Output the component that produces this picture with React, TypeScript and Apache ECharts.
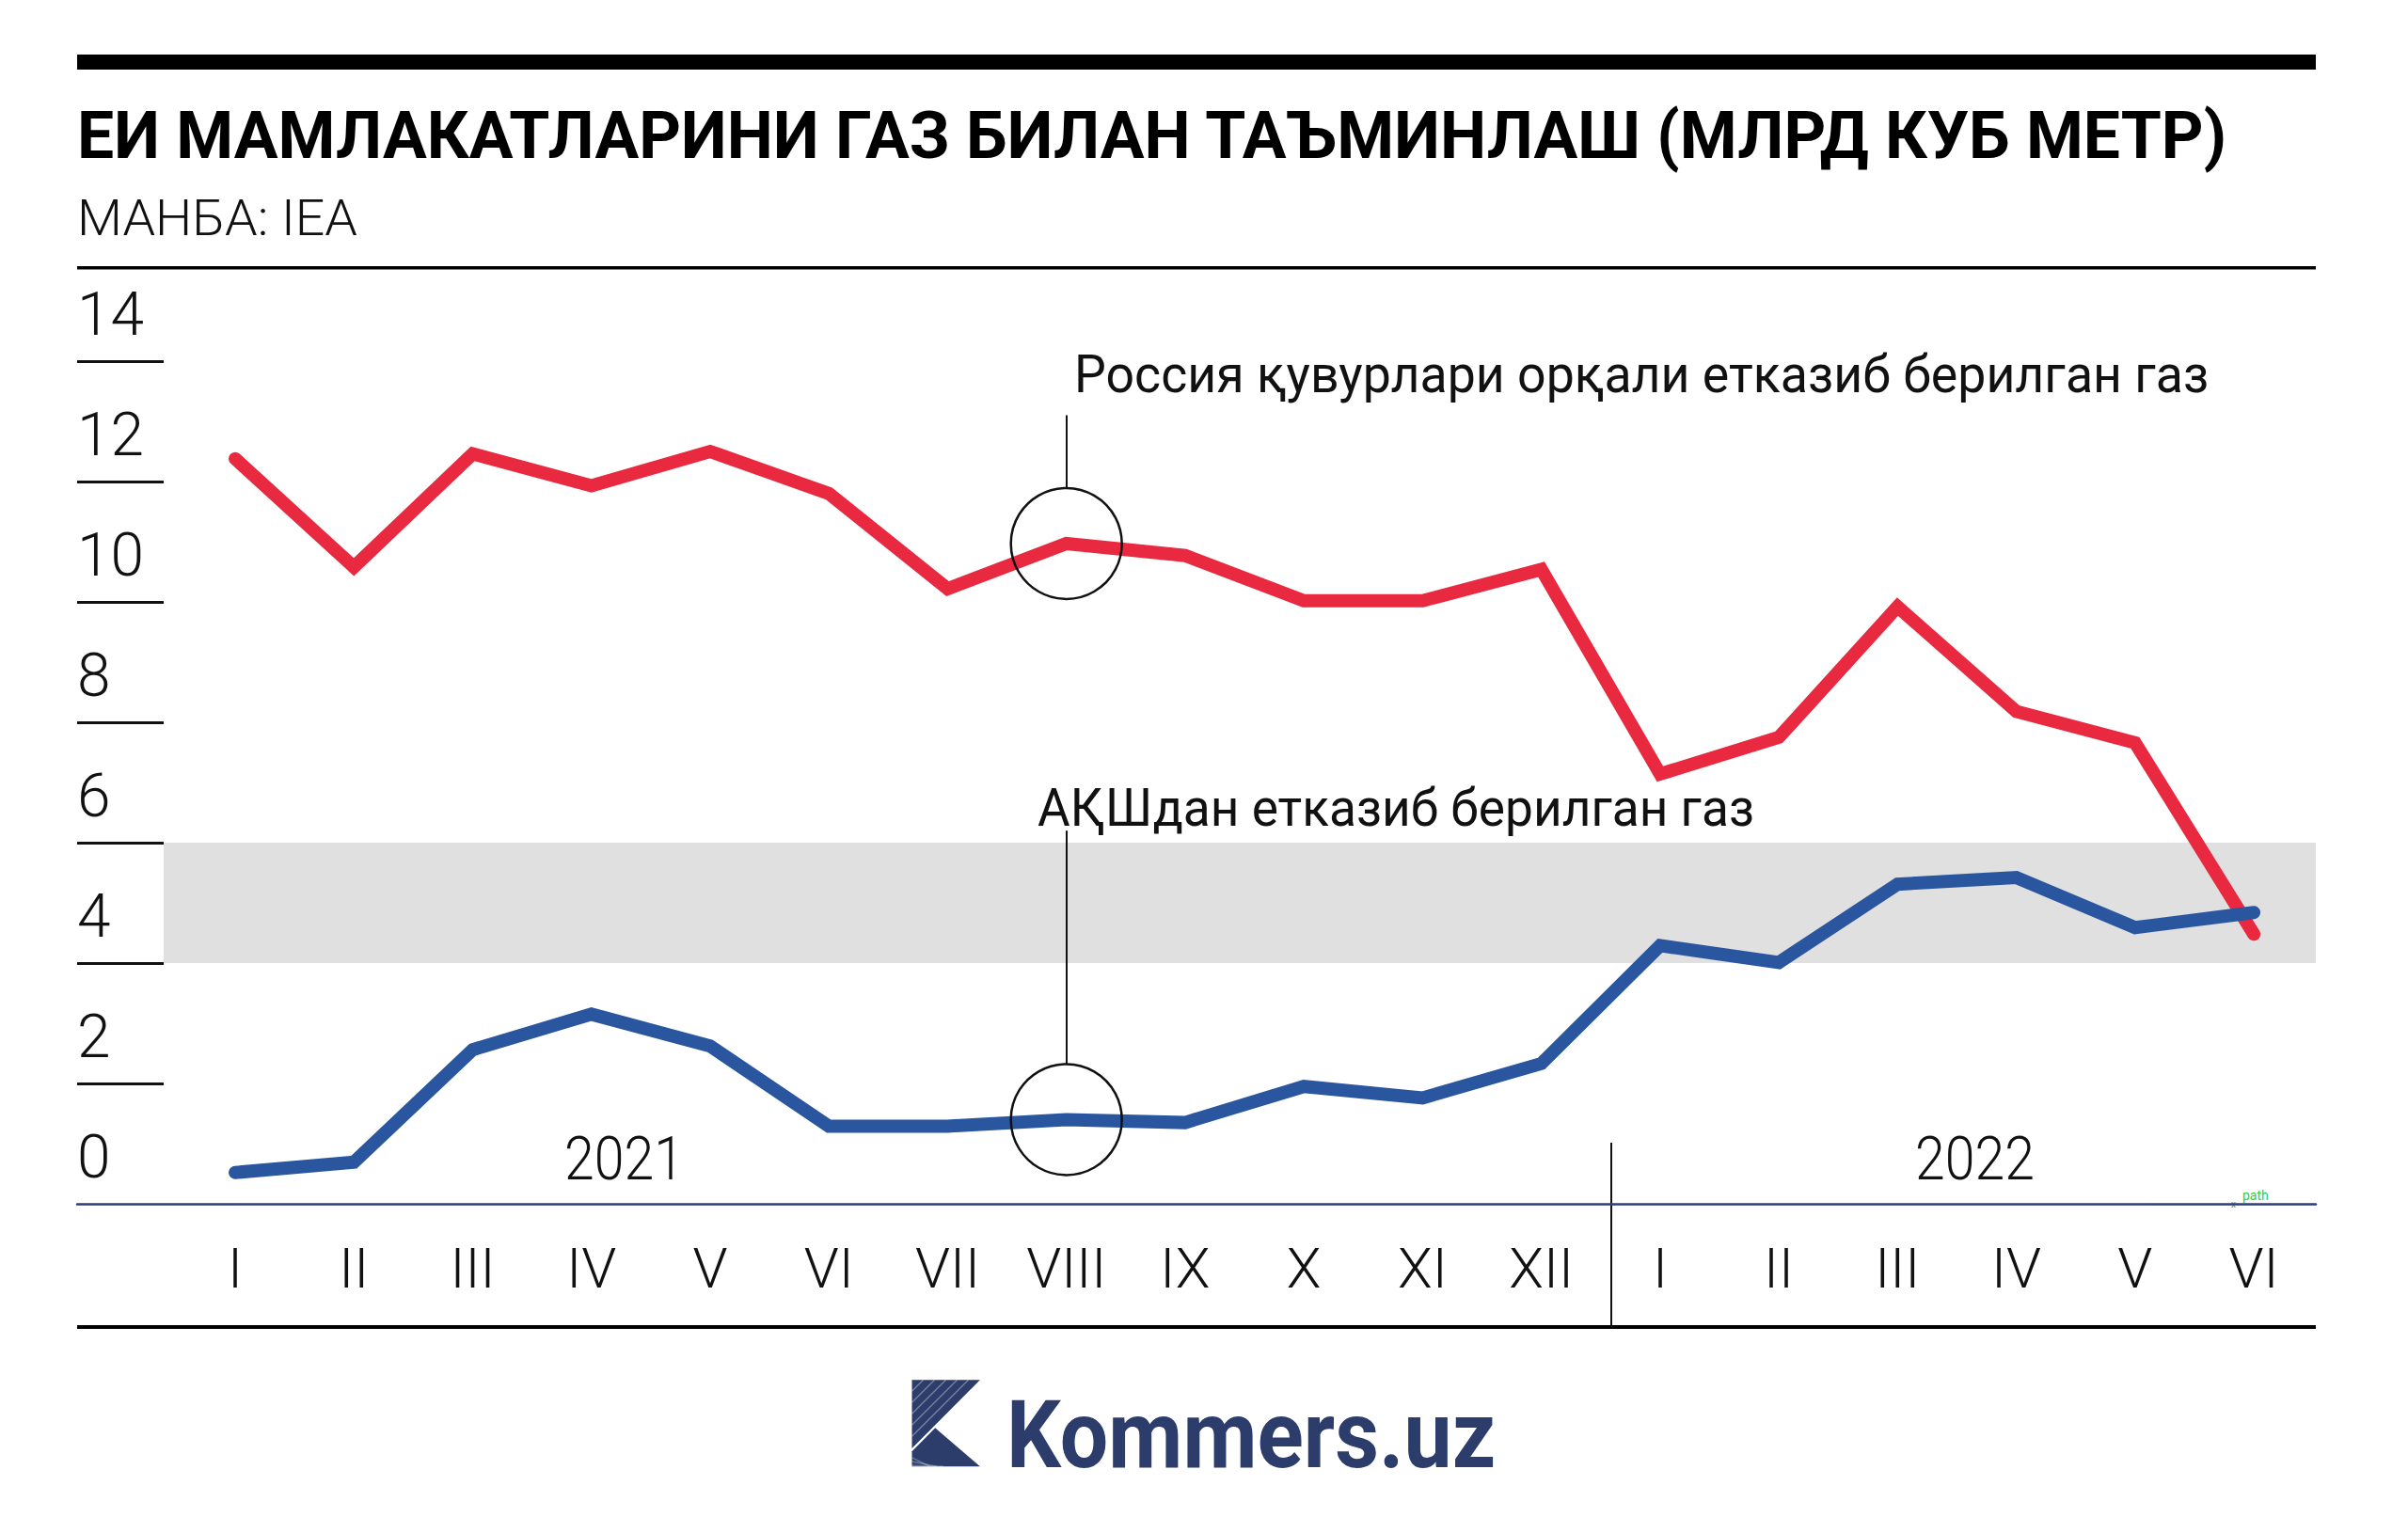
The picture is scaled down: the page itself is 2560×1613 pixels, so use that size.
import React, { useEffect, useRef } from "react";
import * as echarts from "echarts";

const months = ["I", "II", "III", "IV", "V", "VI", "VII", "VIII", "IX", "X", "XI", "XII", "I", "II", "III", "IV", "V", "VI"];
const russiaPipeline = [12.38, 10.58, 12.46, 11.93, 12.5, 11.8, 10.22, 10.97, 10.77, 10.02, 10.02, 10.54, 7.14, 7.75, 9.92, 8.18, 7.66, 4.48];
const usaLng = [0.52, 0.69, 2.56, 3.15, 2.62, 1.29, 1.29, 1.4, 1.35, 1.95, 1.76, 2.33, 4.29, 4.01, 5.31, 5.42, 4.59, 4.84];
const yTicks = [2, 4, 6, 8, 10, 12, 14];
const years = ["2021", "2022"];
const title = "ЕИ МАМЛАКАТЛАРИНИ ГАЗ БИЛАН ТАЪМИНЛАШ (МЛРД КУБ МЕТР)";
const source = "МАНБА: IEA";
const russiaLabel = "Россия қувурлари орқали етказиб берилган газ";
const usaLabel = "АҚШдан етказиб берилган газ";
const brand = "Kommers.uz";

const RED = "#e8293f";
const BLUE = "#2a56a0";
const NAVY = "#2c3d6b";
const FONT = "Roboto, 'Noto Sans', sans-serif";

function measure(text: string, size: number, weight: string | number) {
  const c = document.createElement("canvas");
  const ctx = c.getContext("2d")!;
  ctx.font = `${weight} ${size}px Roboto`;
  return ctx.measureText(text).width;
}

// text placed by left x and baseline, horizontally fitted to a target width
function fitText(text: string, x: number, baseline: number, size: number, weight: string | number, targetW: number, color: string, align = "left") {
  const w = measure(text, size, weight);
  const s = targetW / w;
  return {
    type: "text",
    x,
    y: baseline - 0.3 * size,
    scaleX: s,
    silent: true,
    style: {
      text,
      fill: color,
      font: `${weight} ${size}px ${FONT}`,
      align,
      verticalAlign: "middle",
    },
  };
}

export default function App() {
  const ref = useRef<HTMLDivElement>(null);
  useEffect(() => {
    const chart = echarts.init(ref.current!, null, { renderer: "svg" });
    const gridLeft = 82;
    const gridRight = 2462;
    const x0 = 250;
    const step = 126.24;
    const xMin = -(x0 - gridLeft) / step;
    const xMax = 17 + (gridRight - (x0 + 17 * step)) / step;
    const bandStart = -(x0 - 174) / step;
    const circleR = 59;
    const unit = 64;

    const logoPolys = [
      [[969.5, 1467.3], [1041.9, 1467.3], [969.5, 1540]],
      [[969.5, 1543.3], [994.2, 1518.3], [1041.9, 1559.3], [969.5, 1559.3]],
    ];
    const stripes: any[] = [];
    [12, 24, 36, 48, 60].forEach((d) => {
      stripes.push({
        type: "line",
        silent: true,
        shape: { x1: 969.5 + d, y1: 1467.3, x2: 969.5, y2: 1467.3 + d },
        style: { stroke: "rgba(255,255,255,0.35)", lineWidth: 1.5 },
      });
    });
    [8, 20, 32].forEach((d) => {
      stripes.push({
        type: "line",
        silent: true,
        shape: { x1: 969.5, y1: 1547 + d * 0.35, x2: 969.5 + (1559.3 - 1547 - d * 0.35) * 1.17 + d, y2: 1559.3 },
        style: { stroke: "rgba(255,255,255,0.3)", lineWidth: 1.5 },
      });
    });

    const option: any = {
      animation: false,
      backgroundColor: "#ffffff",
      grid: { left: gridLeft, right: 2560 - gridRight, top: 384, bottom: 1613 - 1280, containLabel: false },
      xAxis: {
        type: "value",
        min: xMin,
        max: xMax,
        axisLine: { show: true, onZero: false, lineStyle: { color: "#2b3f80", width: 2.5 } },
        axisTick: { show: false },
        splitLine: { show: false },
        axisLabel: {
          customValues: months.map((_, i) => i),
          formatter: (v: number) => months[Math.round(v)],
          fontFamily: FONT,
          fontWeight: 300,
          fontSize: 60,
          color: "#111",
          margin: 38,
        },
      },
      yAxis: {
        type: "value",
        min: 0,
        max: 14,
        interval: 2,
        axisLine: { show: false, onZero: false },
        splitLine: { show: false },
        axisTick: {
          show: true,
          inside: true,
          length: 92,
          customValues: yTicks,
          lineStyle: { color: "#111", width: 3 },
        },
        axisLabel: {
          inside: true,
          margin: 0,
          align: "left",
          verticalAlign: "bottom",
          lineHeight: 64,
          padding: [0, 0, 18, 0],
          fontFamily: FONT,
          fontWeight: 300,
          fontSize: 64,
          color: "#111",
          showMinLabel: true,
          showMaxLabel: true,
        },
      },
      series: [
        {
          name: "Russia",
          type: "line",
          z: 3,
          data: russiaPipeline.map((v, i) => [i, v]),
          showSymbol: false,
          lineStyle: { color: RED, width: 14, cap: "round", join: "miter" },
          silent: true,
          markArea: {
            silent: true,
            itemStyle: { color: "#e0e0e0" },
            data: [[{ xAxis: bandStart, yAxis: 6 }, { xAxis: xMax, yAxis: 4 }]],
          },
          markPoint: {
            silent: true,
            symbol: "circle",
            symbolSize: circleR * 2,
            itemStyle: { color: "rgba(0,0,0,0)", borderColor: "#111", borderWidth: 2.5 },
            label: { show: false },
            data: [{ coord: [7, russiaPipeline[7]] }],
          },
          markLine: {
            silent: true,
            symbol: ["none", "none"],
            lineStyle: { color: "#111", width: 2, type: "solid" },
            label: { show: false },
            data: [[{ coord: [7, russiaPipeline[7] + circleR / unit] }, { coord: [7, 13.1] }]],
          },
        },
        {
          name: "USA",
          type: "line",
          z: 4,
          data: usaLng.map((v, i) => [i, v]),
          showSymbol: false,
          lineStyle: { color: BLUE, width: 14, cap: "round", join: "miter" },
          silent: true,
          markPoint: {
            silent: true,
            symbol: "circle",
            symbolSize: circleR * 2,
            itemStyle: { color: "rgba(0,0,0,0)", borderColor: "#111", borderWidth: 2.5 },
            label: { show: false },
            data: [{ coord: [7, usaLng[7]] }],
          },
          markLine: {
            silent: true,
            symbol: ["none", "none"],
            lineStyle: { color: "#111", width: 2, type: "solid" },
            label: { show: false },
            data: [[{ coord: [7, usaLng[7] + circleR / unit] }, { coord: [7, 6.2] }]],
          },
        },
      ],
      graphic: [
        { type: "rect", silent: true, shape: { x: 82, y: 58, width: 2380, height: 16 }, style: { fill: "#000" } },
        fitText(title, 82, 165, 70, 700, 2288, "#000"),
        fitText(source, 82, 248, 53, 300, 298, "#111"),
        { type: "rect", silent: true, shape: { x: 82, y: 283, width: 2380, height: 3.5 }, style: { fill: "#000" } },
        { type: "rect", silent: true, shape: { x: 82, y: 1409, width: 2380, height: 4 }, style: { fill: "#000" } },
        { type: "line", silent: true, shape: { x1: 1713, y1: 1215, x2: 1713, y2: 1411 }, style: { stroke: "#111", lineWidth: 2 } },
        fitText(years[0], 600, 1252, 64, 300, 127, "#111"),
        fitText(years[1], 2036, 1252, 64, 300, 127, "#111"),
        fitText(russiaLabel, 1142, 414, 56, 400, 1206, "#111"),
        fitText(usaLabel, 1103, 875, 56, 400, 762, "#111"),
        ...logoPolys.map((pts) => ({
          type: "polygon",
          silent: true,
          shape: { points: pts },
          style: { fill: NAVY },
        })),
        ...stripes,
        fitText(brand, 1070, 1556, 100, 700, 520, NAVY),
        {
          type: "text",
          silent: true,
          x: 2384,
          y: 1271,
          style: { text: "path", fill: "#33cc44", font: `400 14px ${FONT}`, verticalAlign: "middle" },
        },
        {
          type: "text",
          silent: true,
          x: 2372,
          y: 1280,
          style: { text: "x", fill: "#667788", font: `400 10px ${FONT}`, verticalAlign: "middle" },
        },
      ],
    };
    chart.setOption(option);
    return () => chart.dispose();
  }, []);
  return (
    <div
      ref={ref}
      style={{ position: "absolute", left: 0, top: 0, width: 2560, height: 1613, background: "#fff" }}
    />
  );
}
